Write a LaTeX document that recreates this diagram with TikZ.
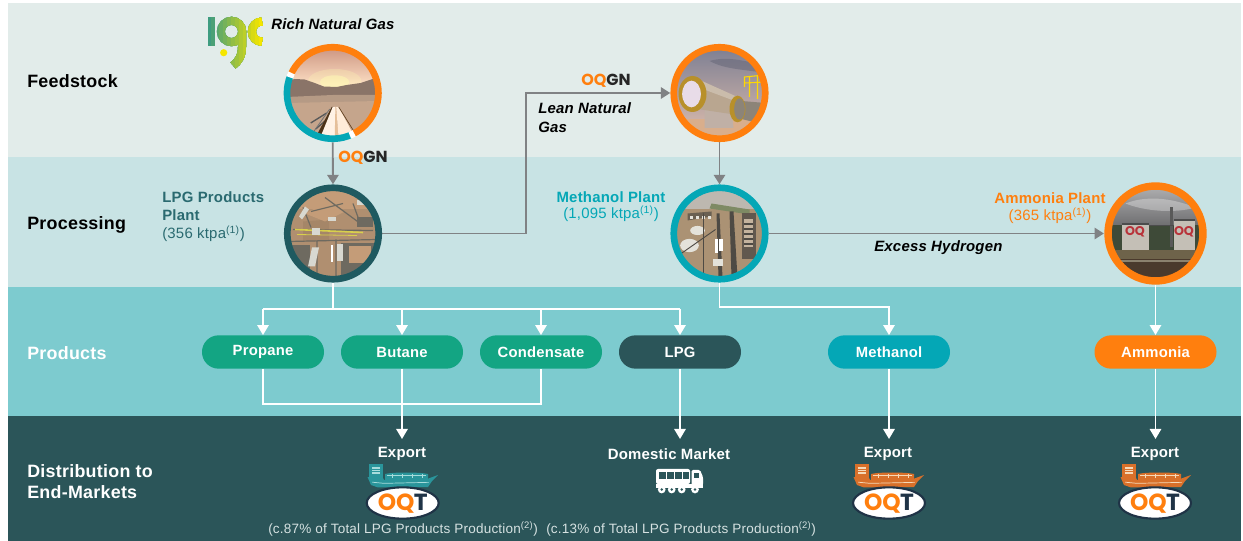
\documentclass[tikz,border=0pt]{standalone}
\usepackage{fontspec}
\setmainfont[LetterSpace=1.5]{Liberation Sans}
\newfontfamily\logofont{Poppins}
\usetikzlibrary{arrows.meta,shapes.geometric,calc}
\definecolor{bandA}{HTML}{E2ECEA}
\definecolor{bandB}{HTML}{C8E3E4}
\definecolor{bandC}{HTML}{7DCBCF}
\definecolor{bandD}{HTML}{2B5559}
\definecolor{pillG}{HTML}{13A583}
\definecolor{tealC}{HTML}{04A7B6}
\definecolor{orangeC}{HTML}{FF7F0E}
\definecolor{darkC}{HTML}{1F5A60}
\definecolor{greyL}{HTML}{808284}
\definecolor{noteC}{HTML}{D6E2E2}
\definecolor{lpgT}{HTML}{2A6A70}
\definecolor{logoD}{HTML}{1F3346}
\definecolor{logoA}{HTML}{3E9C80}
\definecolor{logoB}{HTML}{F5E600}
\definecolor{shipT}{HTML}{2A959B}
\definecolor{shipTL}{HTML}{A8DCDC}
\definecolor{shipO}{HTML}{D8702A}
\definecolor{shipOL}{HTML}{F5D9B8}
\tikzset{
  x=0.75pt,y=-0.75pt,
  band/.style={fill=#1,draw=none},
  ring/.style={circle,minimum size=73.5pt,inner sep=0pt,draw=none},
  rowlabel/.style={anchor=west,inner sep=0pt,font=\bfseries\fontsize{13.4}{16}\selectfont,align=left},
  pill/.style={rounded corners=12.4pt,minimum width=91.5pt,minimum height=25pt,inner sep=0pt,fill=#1,text=white,font=\bfseries\fontsize{11.1}{12}\selectfont},
  greyline/.style={draw=greyL,line width=1.4pt,-{Triangle[length=7pt,width=8.5pt]}},
  greyplain/.style={draw=greyL,line width=1.4pt},
  whiteline/.style={draw=white,line width=1.4pt,-{Triangle[length=7.5pt,width=8.5pt]}},
  whiteplain/.style={draw=white,line width=1.4pt},
  capt/.style={inner sep=0pt,font=\bfseries\fontsize{11.2}{12}\selectfont,text=white},
  note/.style={inner sep=0pt,anchor=west,font=\fontsize{10.15}{12}\selectfont,text=noteC},
  flow/.style={inner sep=0pt,font=\bfseries\itshape\fontsize{11.2}{14.2}\selectfont,text=black,align=left},
  plantb/.style={inner sep=0pt,font=\fontsize{11.2}{14}\selectfont,align=center},
  planth/.style={inner sep=0pt,font=\bfseries\fontsize{11.2}{13.6}\selectfont},
  oqgn/.style={inner sep=0pt,font=\logofont\bfseries\fontsize{12}{14}\selectfont},
}
\newcommand{\oqgnlogo}{\textcolor{orangeC}{OQ}\textcolor{black!85}{GN}}
\newcommand{\shipicon}[4]{% x y main light
  \begin{scope}[shift={(#1,#2)}]
    \fill[#3] (-33,-16) rectangle (-19,0);
    \fill[#4] (-30,-13) rectangle (-22,-6);
    \foreach \v in {-11,-8.5}{\fill[#3] (-30,\v) rectangle (-22,\v+.8);}
    \fill[#3] (-17,-6) .. controls (-10,-8) and (18,-8) .. (26,-6) -- (26,1) -- (-17,2) -- cycle;
    \fill[#4] (-15,-4.6) -- (24,-4.6) -- (24,-3.6) -- (-15,-3.6) -- cycle;
    \foreach \u in {-10,0,10,20}{\fill[#4] (\u,-5.5) rectangle ++(1,4);}
    \fill[#3] (-34.5,-3) -- (-19,-2) -- (-18,0) -- (25,-1) -- (36,-5) -- (30,1) -- (26,7) -- (-24,7.5) -- (-31,5) -- cycle;
    \fill[#4] (-30,1.8) -- (-18,3) -- (27,2) -- (26.5,2.7) -- (-18,3.7) -- (-29.5,2.6) -- cycle;
  \end{scope}}
\newcommand{\oqtlogo}[3]{% name x y
  \node[ellipse,draw=logoD,line width=1.6pt,fill=white,minimum width=54pt,minimum height=23.5pt,inner sep=0pt] (#1) at (#2,#3) {};
  \node[inner sep=0pt,font=\logofont\bfseries\fontsize{17.5}{17}\selectfont] (#1t) at (#2,#3+1) {\textcolor{orangeC}{OQ}\kern-0.5pt\textcolor{logoD}{T}};}
\begin{document}
\begin{tikzpicture}
\useasboundingbox (0,0) rectangle (1243,541);
% bands
\fill[band=bandA] (8,3) rectangle (1241,157);
\fill[band=bandB] (8,157) rectangle (1241,287);
\fill[band=bandC] (8,287) rectangle (1241,416);
\fill[band=bandD] (8,416) rectangle (1241,541);
% row labels
\node[rowlabel] (lF) at (27,81) {Feedstock};
\node[rowlabel] (lP) at (27,225) {Processing};
\node[rowlabel,text=white] (lR) at (27,353) {Products};
\node[rowlabel,text=white] (lD) at (27,481.5) {Distribution to\\End-Markets};
% circles
\node[ring] (c1) at (332.7,93) {};
\node[ring] (c2) at (333,233.5) {};
\node[ring] (c3) at (719.5,93) {};
\node[ring] (c4) at (719.5,233.5) {};
\node[ring,minimum size=77pt] (c5) at (1155.5,233.5) {};
% pills
\node[pill=pillG] (p1) at (263,352) {\raisebox{-1.7pt}{Propane}};
\node[pill=pillG] (p2) at (402,352) {\raisebox{-1.7pt}{Butane}};
\node[pill=pillG] (p3) at (541,352) {\raisebox{-1.7pt}{Condensate}};
\node[pill=bandD] (p4) at (680,352) {\raisebox{-1.7pt}{LPG}};
\node[pill=tealC] (p5) at (889,352) {\raisebox{-1.7pt}{Methanol}};
\node[pill=orangeC] (p6) at (1155.5,352) {\raisebox{-1.7pt}{Ammonia}};
% captions
\node[capt] (e1) at (402,454) {Export};
\node[capt] (e2) at (669,454) {Domestic Market};
\node[capt] (e3) at (888,454) {Export};
\node[capt] (e4) at (1155,454) {Export};
% coordinates of elbows and arrow ends
\coordinate (k1) at (526,233.5);
\coordinate (k2) at (526,93);
\coordinate (b0) at (333,309);
\coordinate (b1) at (263,309);
\coordinate (b2) at (402,309);
\coordinate (b3) at (541,309);
\coordinate (b4) at (680,309);
\coordinate (m0) at (719.5,307);
\coordinate (m1) at (889,307);
\coordinate (d1) at (263,404);
\coordinate (d2) at (541,404);
\coordinate (f1) at (402,439);
\coordinate (f2) at (680,439);
\coordinate (f3) at (889,439);
\coordinate (f4) at (1155.5,439);
% grey connectors
\draw[greyline] (c1.south) -- (c2.north);
\draw[greyline] (c2.east) -- (k1) -- (k2) -- (c3.west);
\draw[greyline] (c3.south) -- (c4.north);
\draw[greyline] (c4.east) -- (c5.west);
% white connectors
\draw[whiteplain] (c2.south) -- (b0);
\draw[whiteplain] (b1) -- (b4);
\draw[whiteline] (b1) -- (p1.north);
\draw[whiteline] (b2) -- (p2.north);
\draw[whiteline] (b3) -- (p3.north);
\draw[whiteline] (b4) -- (p4.north);
\draw[whiteline] (c4.south) -- (m0) -- (m1) -- (p5.north);
\draw[whiteline] (c5.south) -- (p6.north);
\draw[whiteplain] (p1.south) -- (d1) -- (d2) -- (p3.south);
\draw[whiteline] (p2.south) -- (f1);
\draw[whiteline] (p4.south) -- (f2);
\draw[whiteline] (p5.south) -- (f3);
\draw[whiteline] (p6.south) -- (f4);
% photo 1: desert pipeline
\begin{scope}
  \clip (c1) circle (33pt);
  \begin{scope}[shift={(332.7,93)}]
    \shade[top color=black!18!pink!70!brown,bottom color=orange!22!white] (-46,-46) rectangle (46,-6);
    \fill[white!70!yellow,opacity=.25] (2,-12) ellipse (20pt and 9pt);
    \fill[white!70!yellow,opacity=.5] (2,-11) ellipse (11pt and 5pt);
    \definecolor{mtA}{HTML}{8A7468}\definecolor{grA}{HTML}{C5A58C}\definecolor{grB}{HTML}{B59A85}
    \fill[mtA] (-46,-12) -- (-38,-14) -- (-28,-13.5) -- (-18,-10) -- (-9,-6.5) -- (4,-6) -- (14,-8) -- (28,-10) -- (40,-14) -- (46,-13) -- (46,6) -- (-46,8) -- cycle;
    \fill[grB] (-46,4) -- (0,2) -- (46,2) -- (46,14) -- (-46,14) -- cycle;
    \fill[grA] (-46,10) -- (46,8) -- (46,46) -- (-46,46) -- cycle;
    \draw[black!65,line width=1pt] (-22,30) -- (-6,20) (-17,36) -- (-3,24);
    \draw[black!55,line width=.6pt] (-20,40) -- (-3,16);
    \fill[black!60!brown] (-18,46) -- (-1,14) -- (1,14) -- (-12,46) -- cycle;
    \fill[white!90!orange] (-13,46) -- (0,14) -- (3,14) -- (4,46) -- cycle;
    \fill[black!25!orange!40!white] (2,46) -- (2.7,14) -- (3.5,14) -- (6,46) -- cycle;
    \fill[white!85!orange] (6,46) -- (3.5,14) -- (6,14) -- (23,46) -- cycle;
    \draw[black!50!brown,line width=.5pt] (6,14) -- (26,46);
  \end{scope}
\end{scope}
\draw[draw=orangeC,line width=5pt] ($(c1)+(157:34.3pt)$) arc[start angle=157,end angle=-65,radius=34.3pt];
\draw[draw=tealC,line width=5pt] ($(c1)+(-65:34.3pt)$) arc[start angle=-65,end angle=-203,radius=34.3pt];
\fill[white] ($(c1)+(154:31.6pt)$) -- ($(c1)+(154:37pt)$) -- ($(c1)+(160:37pt)$) -- ($(c1)+(160:31.6pt)$) -- cycle;
\fill[white] ($(c1)+(-68:31.6pt)$) -- ($(c1)+(-68:37pt)$) -- ($(c1)+(-62:37pt)$) -- ($(c1)+(-62:31.6pt)$) -- cycle;
% photo 2: LPG aerial
\begin{scope}
  \clip (c2) circle (33pt);
  \begin{scope}[shift={(333,233.5)}]
    \definecolor{tanA}{HTML}{B08F70}\definecolor{tanB}{HTML}{C49C78}\definecolor{tanC}{HTML}{A58668}\definecolor{rdA}{HTML}{6E6A60}\definecolor{whA}{HTML}{D8D8D0}
    \fill[tanA] (-46,-46) rectangle (46,46);
    \fill[tanB] (-46,-46) rectangle (46,-24);
    \fill[tanC] (-30,-12) -- (-4,-14) -- (-4,8) -- (-30,8) -- cycle;
    \fill[tanB] (-8,-30) -- (12,-22) -- (-8,-12) -- (-28,-20) -- cycle;
    \draw[rdA,line width=.9pt] (-40,-4) -- (40,-3) (-8,-36) -- (30,-8) (-30,-26) -- (-22,-6) (-16,8) -- (-16,44) (3,6) -- (3,44) (20,-30) -- (28,-8) (-44,8) -- (44,6) (-22,-22) -- (10,-30);
    \draw[yellow!65!gray,line width=1.2pt] (-38,-4) -- (30,-1);
    \draw[yellow!65!gray,line width=.6pt] (-36,1) -- (24,2);
    \fill[whA] (-28,-27) -- (-24,-24) -- (-31,-14) -- (-34,-17) -- cycle;
    \fill[whA] (-21,2) rectangle (-13,-5);
    \fill[rdA] (-45,12) rectangle (-23,46);
    \fill[whA] (-21,14) -- (-14,14) -- (-18,33) -- (-25,33) -- cycle;
    \fill[white] (-2,12) rectangle (0,29);
    \fill[rdA] (8,10) rectangle (45,46);
    \fill[whA] (4,11) rectangle (10,28);
    \fill[tanB] (16,13) rectangle (38,30);
    \fill[rdA] (24,-16) rectangle (40,-6);
    \fill[whA] (24,-33) rectangle (32,-28);
    \fill[whA] (-5,-16) rectangle (3,-12);
  \end{scope}
\end{scope}
\draw[draw=darkC,line width=5pt] (c2) circle (34.3pt);
% photo 3: flange
\begin{scope}
  \clip (c3) circle (33pt);
  \begin{scope}[shift={(719.5,93)}]
    \definecolor{skA}{HTML}{7D7F93}\definecolor{skB}{HTML}{A98CA4}\definecolor{skC}{HTML}{CDB2A8}\definecolor{grC}{HTML}{D9AE8C}\definecolor{piA}{HTML}{B9A690}\definecolor{piB}{HTML}{8C8478}\definecolor{flA}{HTML}{B8902A}\definecolor{flW}{HTML}{E8DCE8}\definecolor{beA}{HTML}{C0B0A6}
    \shade[top color=skA,middle color=skB,bottom color=skC] (-46,-46) rectangle (46,28);
    \fill[skA!80!black,opacity=.5] (-10,-32) .. controls (10,-38) and (30,-30) .. (46,-28) -- (46,-20) .. controls (20,-24) and (5,-24) .. (-10,-32) -- cycle;
    \fill[grC] (-46,26) rectangle (46,46);
    \fill[beA] (-15,16) -- (12,16) -- (14,35) -- (-15,35) -- cycle;
    \fill[piA] (-22,-14) -- (18,4) -- (18,22) -- (-22,16) -- cycle;
    \fill[white,opacity=.25] (-22,-14) -- (18,4) -- (18,9) -- (-22,-6) -- cycle;
    \fill[piB] (22,8) -- (46,10) -- (46,32) -- (22,26) -- cycle;
    \fill[flA] (-27,1) ellipse (10.5pt and 13.5pt);
    \fill[flW] (-28,1) ellipse (7pt and 10pt);
    \fill[flA] (18,16) ellipse (6pt and 10pt);
    \fill[piB] (20,16) ellipse (4pt and 8pt);
    \draw[yellow!75!orange,line width=.8pt] (25,-6) -- (25,-16) -- (45,-18) (30,-16) -- (30,4) (38,-18) -- (38,6) (26,-10) -- (45,-11);
  \end{scope}
\end{scope}
\draw[draw=orangeC,line width=5pt] (c3) circle (34.3pt);
% photo 4: methanol aerial
\begin{scope}
  \clip (c4) circle (33pt);
  \begin{scope}[shift={(719.5,233.5)}]
    \definecolor{tanD}{HTML}{AB9274}\definecolor{toA}{HTML}{BDB8B0}\definecolor{grnA}{HTML}{7E8A64}\definecolor{drk}{HTML}{4E4A44}\definecolor{whB}{HTML}{E4E2DA}
    \fill[tanD] (-46,-46) rectangle (46,46);
    \fill[toA] (-46,-46) rectangle (46,-24);
    \fill[grnA] (-8,-30) -- (30,-24) -- (30,-19) -- (-10,-25) -- cycle;
    \fill[drk] (-3,-20) -- (0,-20) -- (3,44) -- (-1,44) -- cycle;
    \fill[drk] (10,-22) -- (14,-22) -- (18,44) -- (12,44) -- cycle;
    \fill[drk!80!tanD] (22,-20) rectangle (36,26);
    \fill[tanD!70!white] (24,-14) rectangle (33,14);
    \foreach \v in {-10,-5,0,5,10}{\fill[drk] (24,\v) rectangle (33,\v+1.5);}
    \fill[drk!70!tanD] (-32,-20) -- (-8,-22) -- (-8,-17) -- (-32,-13) -- cycle;
    \foreach \u in {-30,-24,-18,-12}{\fill[whB] (\u,-17) rectangle ++(3,2.5);}
    \fill[whB] (-22,-3) ellipse (5.5pt and 3.4pt);
    \fill[whB] (-30,12) ellipse (7pt and 5pt);
    \fill[white] (-5,6) rectangle (-2,20);
    \fill[white] (-1,6) rectangle (3,18);
    \fill[whB] (-7,26) rectangle (3,33);
    \draw[drk,line width=.7pt] (-44,24) -- (-4,-4) (-16,-20) -- (-16,40);
  \end{scope}
\end{scope}
\draw[draw=tealC,line width=5pt] (c4) circle (34.3pt);
% photo 5: ammonia tanks
\begin{scope}
  \clip (c5) circle (33.5pt);
  \begin{scope}[shift={(1155.5,233.5)}]
    \definecolor{skD}{HTML}{8A8A8C}\definecolor{skE}{HTML}{5E5E60}\definecolor{taA}{HTML}{C4BFB6}\definecolor{plA}{HTML}{3E4A38}\definecolor{gnD}{HTML}{6E634A}\definecolor{gnE}{HTML}{4A3A2C}\definecolor{rdQ}{HTML}{B8333A}
    \shade[top color=skD!70!white,bottom color=skE] (-46,-46) rectangle (46,2);
    \fill[white,opacity=.3] (-30,-30) .. controls (-10,-38) and (15,-36) .. (40,-26) .. controls (20,-20) and (-10,-22) .. (-30,-30) -- cycle;
    \fill[plA] (-46,-8) rectangle (46,18);
    \fill[taA] (-34,-8) rectangle (-7,17);
    \fill[taA] (18,-12) rectangle (39,17);
    \fill[black!70] (-34,-10) rectangle (-7,-8);
    \fill[black!70] (18,-14) rectangle (39,-12);
    \fill[gray!70!black] (14,-26) rectangle (17,14);
    \draw[gray!60!black,line width=1pt] (-7,-8) -- (18,-8);
    \node[inner sep=0pt,text=rdQ,font=\logofont\bfseries\fontsize{9.5}{10}\selectfont] (lg1) at (-20.5,-2) {OQ};
    \node[inner sep=0pt,text=rdQ,font=\logofont\bfseries\fontsize{9.5}{10}\selectfont] (lg2) at (28.5,-2) {OQ};
    \fill[gnD] (-46,17) rectangle (46,28);
    \fill[gnE] (-46,26) rectangle (46,46);
    \fill[gnD!80!white] (-46,27) rectangle (46,28.5);
  \end{scope}
\end{scope}
\draw[draw=orangeC,line width=5.6pt] (c5) circle (35.6pt);
% igc logo
\foreach \s in {0,...,13}{
  \pgfmathtruncatemacro{\p}{\s*100/13}
  \begin{scope}
    \clip (207+\s*4,10) rectangle (264,70);
    \fill[logoB!\p!logoA] (208,16.7) rectangle (214.5,46);
    \draw[logoB!\p!logoA,line width=6pt] (231.5,31.5) circle (8pt);
    \draw[logoB!\p!logoA,line width=6pt] (242,31.5) -- (242,47) .. controls (242,56) and (238,62) .. (233,65.5);
    \draw[logoB!\p!logoA,line width=6pt] (262,21.5) arc[start angle=90,end angle=270,radius=7.6pt];
  \end{scope}}
\fill[logoB] (223.7,52.7) circle (2.7pt);
% labels
\node[inner sep=0pt,anchor=west,font=\bfseries\itshape\fontsize{11.2}{12}\selectfont] (t1) at (271,24) {Rich Natural Gas};
\node[oqgn] (q1) at (363,158) {\oqgnlogo};
\node[oqgn] (q2) at (606,81) {\oqgnlogo};
\node[flow,anchor=west] (t2) at (538,118) {Lean Natural\\Gas};
\node[flow,anchor=west] (t3) at (874,247.5) {Excess Hydrogen};
\node[planth,anchor=west,text=lpgT,align=left] (t4) at (162,206.5) {LPG Products\\Plant};
\node[plantb,anchor=west,text=lpgT] (t5) at (162,234) {(356 ktpa\textsuperscript{(1)})};
\node[planth,text=tealC] (t6) at (611,197) {Methanol Plant};
\node[plantb,text=tealC] (t7) at (611,214) {(1,095 ktpa\textsuperscript{(1)})};
\node[planth,text=orangeC] (t8) at (1050,198.5) {Ammonia Plant};
\node[plantb,text=orangeC] (t9) at (1050,216) {(365 ktpa\textsuperscript{(1)})};
\node[note] (n1) at (268,529) {(c.87\% of Total LPG Products Production\textsuperscript{(2)})};
\node[note] (n2) at (546,529) {(c.13\% of Total LPG Products Production\textsuperscript{(2)})};
% ships and OQT
\shipicon{402}{480}{shipT}{shipTL}
\shipicon{888}{480}{shipO}{shipOL}
\shipicon{1155}{480}{shipO}{shipOL}
\oqtlogo{o1}{402.7}{503}
\oqtlogo{o2}{889}{503}
\oqtlogo{o3}{1155}{503}
% truck
\begin{scope}[shift={(669,481)}]
  \fill[white,rounded corners=1.5pt] (-13,-12) rectangle (21,3);
  \fill[bandD] (-10.5,-9.3) rectangle (20,-1.5);
  \foreach \u in {-3,5,13}{\fill[white] (\u,-9.5) rectangle ++(1.4,8);}
  \fill[white,rounded corners=1pt] (22.5,-11) -- (31,-11) -- (34,-4) -- (34,4) -- (22.5,4) -- cycle;
  \fill[bandD] (25,-8) rectangle (29.5,-3);
  \fill[white] (-13,3) rectangle (34,7);
  \foreach \u in {-7.3,2.7,12.7,26}{\fill[white] (\u,8.5) circle (2.9pt);\fill[bandD] (\u,8.5) circle (1pt);}
\end{scope}
\end{tikzpicture}
\end{document}
